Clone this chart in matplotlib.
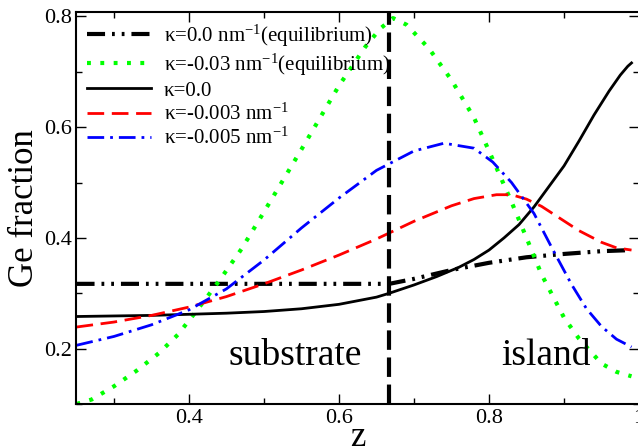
import matplotlib
matplotlib.use('Agg')
import matplotlib.pyplot as plt

plt.rcParams['font.family'] = ['Liberation Serif', 'DejaVu Serif']
plt.rcParams['mathtext.fontset'] = 'custom'
plt.rcParams['mathtext.rm'] = 'Liberation Serif'
plt.rcParams['mathtext.it'] = 'Liberation Serif:italic'
plt.rcParams['lines.scale_dashes'] = False

# kappa = 0.0 nm^-1 (equilibrium)
z_eq0 = [0.25, 0.40, 0.55, 0.667, 0.70, 0.75, 0.80, 0.85, 0.90, 0.95, 0.99]
ge_eq0 = [0.317, 0.317, 0.317, 0.317, 0.326, 0.342, 0.355, 0.365, 0.371, 0.376, 0.378]

# kappa = -0.03 nm^-1 (equilibrium)
z_eq3 = [0.25, 0.27, 0.30, 0.33, 0.36, 0.385, 0.41, 0.44, 0.47, 0.50, 0.55, 0.60,
         0.635, 0.655, 0.672, 0.69, 0.72, 0.75, 0.78, 0.80, 0.83, 0.85, 0.87, 0.90,
         0.92, 0.95, 0.97, 0.99]
ge_eq3 = [0.100, 0.108, 0.132, 0.160, 0.192, 0.225, 0.268, 0.322, 0.38, 0.447, 0.56, 0.675,
          0.745, 0.778, 0.797, 0.785, 0.742, 0.685, 0.617, 0.557, 0.465, 0.400, 0.334, 0.256,
          0.218, 0.173, 0.158, 0.150]

# kappa = 0.0
z_k0 = [0.25, 0.30, 0.35, 0.40, 0.45, 0.50, 0.55, 0.60, 0.65, 0.667, 0.70, 0.73, 0.76,
        0.78, 0.80, 0.82, 0.84, 0.86, 0.88, 0.90, 0.92, 0.94, 0.96, 0.975, 0.985, 0.99]
ge_k0 = [0.258, 0.259, 0.260, 0.262, 0.264, 0.267, 0.272, 0.280, 0.293, 0.300, 0.315, 0.330, 0.347,
         0.361, 0.378, 0.400, 0.424, 0.456, 0.493, 0.530, 0.575, 0.622, 0.665, 0.694, 0.710, 0.716]

# kappa = -0.003 nm^-1
z_k3 = [0.25, 0.30, 0.35, 0.40, 0.45, 0.50, 0.55, 0.60, 0.65, 0.70, 0.75, 0.78,
        0.81, 0.83, 0.85, 0.87, 0.895, 0.92, 0.95, 0.97, 0.99]
ge_k3 = [0.239, 0.248, 0.260, 0.275, 0.294, 0.317, 0.342, 0.369, 0.398, 0.430, 0.458, 0.471,
         0.478, 0.478, 0.470, 0.457, 0.435, 0.413, 0.392, 0.382, 0.378]

# kappa = -0.005 nm^-1
z_k5 = [0.25, 0.30, 0.35, 0.40, 0.45, 0.50, 0.55, 0.60, 0.65, 0.70, 0.74, 0.78,
        0.805, 0.83, 0.86, 0.885, 0.91, 0.93, 0.95, 0.97, 0.99]
ge_k5 = [0.206, 0.222, 0.243, 0.270, 0.308, 0.360, 0.418, 0.472, 0.522, 0.557, 0.571, 0.562,
         0.537, 0.500, 0.444, 0.379, 0.316, 0.272, 0.240, 0.217, 0.203]

z_interface = 2.0 / 3.0

fig = plt.figure(figsize=(6.38, 4.46), dpi=100)
ax = fig.add_axes([0.1199, 0.0942, 0.8817, 0.8789])

ax.plot(z_eq0, ge_eq0, color='black', lw=3, dashes=(13, 5, 2, 5, 2, 5),
        label=r'κ=0.0 nm$^{\mathrm{-1}}$(equilibrium)')
ax.plot(z_eq3, ge_eq3, color='#00ff00', lw=3, dashes=(2.8, 6.8),
        label=r'κ=-0.03 nm$^{\mathrm{-1}}$(equilibrium)')
ax.plot(z_k0, ge_k0, color='black', lw=2, label='κ=0.0')
ax.plot(z_k3, ge_k3, color='#ff0000', lw=2, dashes=(12, 5.5),
        label=r'κ=-0.003 nm$^{\mathrm{-1}}$')
ax.plot(z_k5, ge_k5, color='#0000ff', lw=2, dashes=(12, 4.3, 2, 4.3),
        label=r'κ=-0.005 nm$^{\mathrm{-1}}$')
ax.axvline(z_interface, color='black', lw=3, dashes=(14, 5.5))

ax.set_xlim(0.25, 1.0)
ax.set_ylim(0.1, 0.808)
ax.set_xticks([0.4, 0.6, 0.8, 1.0])
ax.set_xticklabels(['0.4', '0.6', '0.8', '1'])
ax.set_xticks([0.3, 0.5, 0.7, 0.9], minor=True)
ax.set_yticks([0.2, 0.4, 0.6, 0.8])
ax.set_yticklabels(['0.2', '0.4', '0.6', '0.8'])
ax.set_yticks([0.1, 0.3, 0.5, 0.7], minor=True)
ax.tick_params(which='both', direction='in', top=True, right=True, labelsize=16, width=1)
ax.tick_params(which='major', length=7)
ax.tick_params(which='minor', length=4)
for sp in ax.spines.values():
    sp.set_linewidth(1.5)

ax.set_xlabel('z', fontsize=25, labelpad=-5)
ax.set_ylabel('Ge fraction', fontsize=25, labelpad=2)

ax.text(0.541, 0.171, 'substrate', fontsize=27, ha='center', va='baseline')
ax.text(0.876, 0.171, 'island', fontsize=27, ha='center', va='baseline')

ax.legend(loc='upper left', frameon=False, fontsize=15, handlelength=3.1,
          handletextpad=0.6, labelspacing=0.15, borderaxespad=0.2, borderpad=0.3)

fig.savefig('out.png', dpi=100)
